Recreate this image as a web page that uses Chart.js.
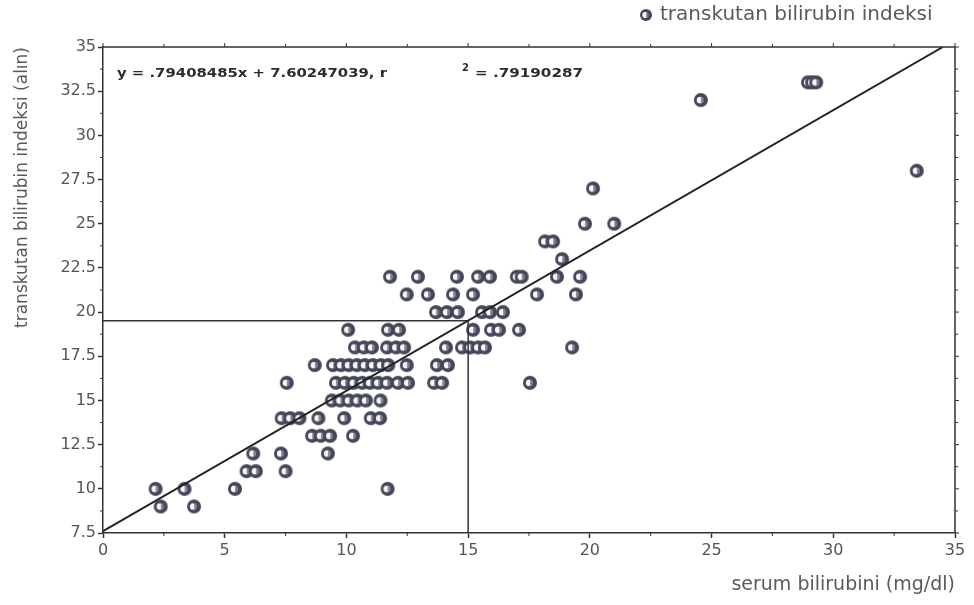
<!DOCTYPE html>
<html>
<head>
<meta charset="utf-8">
<script src="https://cdn.jsdelivr.net/npm/chart.js@4.4.1/dist/chart.umd.min.js"></script>
<style>
  html, body { margin: 0; padding: 0; background: #fff; }
</style>
</head>
<body>
<canvas id="chart" width="974" height="605"></canvas>
<script>
// Regression reported on the chart.
const slope = 0.79408485;
const intercept = 7.60247039;
const rSquared = 0.79190287;
const cutoffSerum = 15;

const indexLevels = [9, 10, 11, 12, 13, 14, 15, 16, 17, 18, 19, 20, 21, 22, 23, 24, 25, 27, 28, 32, 33];
const serumByLevel = [
  [2.37, 3.74],
  [2.16, 3.35, 5.42, 11.69],
  [5.9, 6.28, 7.5],
  [6.17, 7.31, 9.24],
  [8.59, 8.95, 9.33, 10.27],
  [7.34, 7.69, 8.07, 8.85, 9.91, 11.0, 11.38],
  [9.4, 9.75, 10.1, 10.45, 10.8, 11.4],
  [7.55, 9.57, 9.94, 10.3, 10.65, 10.97, 11.3, 11.67, 12.12, 12.53, 13.6, 13.93, 17.54],
  [8.7, 9.45, 9.78, 10.1, 10.43, 10.76, 11.09, 11.42, 11.72, 12.48, 13.72, 14.17],
  [10.35, 10.72, 11.05, 11.67, 12.04, 12.37, 14.09, 14.75, 15.08, 15.41, 15.69, 19.27],
  [10.07, 11.71, 12.16, 15.2, 15.94, 16.27, 17.09],
  [13.68, 14.13, 14.58, 15.57, 15.9, 16.43],
  [12.48, 13.35, 14.38, 15.2, 17.83, 19.43],
  [11.79, 12.94, 14.54, 15.41, 15.9, 17.0, 17.2, 18.65, 19.6],
  [18.86],
  [18.16, 18.49],
  [19.8, 21.0],
  [20.13],
  [33.43],
  [24.56],
  [28.96, 29.13, 29.3],
];

const X_MIN = 0, X_MAX = 35, Y_MIN = 7.5, Y_MAX = 35;
const FONT = 'DejaVu Sans';

// Dark ring with a light half-lit centre, like the scanned markers.
function makeDot(r) {
  const c = document.createElement('canvas');
  const s = Math.ceil(r * 2 + 2);
  c.width = c.height = s;
  const g = c.getContext('2d');
  const m = s / 2;
  g.fillStyle = '#44465a';
  g.beginPath(); g.arc(m, m, r, 0, Math.PI * 2); g.fill();
  g.fillStyle = '#f6f6f6';
  g.beginPath(); g.arc(m - 0.8, m, r * 0.48, 0, Math.PI * 2); g.fill();
  g.fillStyle = '#7c7e8c';
  g.beginPath(); g.arc(m + 0.2, m, r * 0.42, -Math.PI / 2, Math.PI / 2); g.fill();
  return c;
}
const dot = makeDot(7);
const legendDot = makeDot(6);

function fitText(ctx, text, x, y, width) {
  const w = ctx.measureText(text).width;
  ctx.save();
  ctx.translate(x, y);
  ctx.scale(width / w, 1);
  ctx.fillText(text, 0, 0);
  ctx.restore();
}

const points = indexLevels.flatMap((lvl, i) => serumByLevel[i].map((s) => ({ x: s, y: lvl })));
const fitLine = [
  { x: X_MIN, y: intercept },
  { x: (Y_MAX - intercept) / slope, y: Y_MAX },
];
const cutoffIndex = slope * cutoffSerum + intercept;
const cutoffLines = [
  { x: X_MIN, y: cutoffIndex },
  { x: cutoffSerum, y: cutoffIndex },
  { x: cutoffSerum, y: Y_MIN },
];

const framePlugin = {
  id: 'frame',
  afterDraw(chart) {
    const { ctx, chartArea: a, scales: { x, y } } = chart;
    ctx.save();
    ctx.strokeStyle = '#333';
    ctx.lineWidth = 1.5;
    ctx.beginPath();
    ctx.moveTo(a.left, a.top);
    ctx.lineTo(a.right, a.top);
    ctx.lineTo(a.right, a.bottom);
    ctx.stroke();

    // Minor ticks and the ticks on the top / right edges.
    ctx.lineWidth = 1;
    ctx.beginPath();
    for (let v = X_MIN; v <= X_MAX + 1e-6; v += 2.5) {
      const px = x.getPixelForValue(v);
      const major = v % 5 === 0;
      if (!major) { ctx.moveTo(px, a.bottom); ctx.lineTo(px, a.bottom + 3); }
      ctx.moveTo(px, a.top); ctx.lineTo(px, a.top - (major ? 4 : 3));
    }
    for (let v = Y_MIN; v <= Y_MAX + 1e-6; v += 1.25) {
      const py = y.getPixelForValue(v);
      const major = Math.abs(v / 2.5 - Math.round(v / 2.5)) < 1e-6;
      if (!major) { ctx.moveTo(a.left, py); ctx.lineTo(a.left - 3, py); }
      ctx.moveTo(a.right, py); ctx.lineTo(a.right + (major ? 4 : 3), py);
    }
    ctx.stroke();

    // Regression equation.
    ctx.fillStyle = '#2b2b2b';
    ctx.textBaseline = 'alphabetic';
    ctx.font = `bold 13px "${FONT}"`;
    fitText(ctx, `y = .${String(slope).split('.')[1]}x + ${intercept}, r`, a.left + 14, a.top + 30, 270);
    fitText(ctx, `= .${String(rSquared).split('.')[1]}`, a.left + 372, a.top + 30, 108);
    ctx.font = `bold 10px "${FONT}"`;
    ctx.fillText('2', a.left + 359, a.top + 24);

    // Legend.
    ctx.drawImage(legendDot, 646 - legendDot.width / 2, 15 - legendDot.height / 2);
    ctx.fillStyle = '#5a5a5a';
    ctx.font = `20px "${FONT}"`;
    ctx.textBaseline = 'middle';
    ctx.fillText('transkutan bilirubin indeksi', 660, 15);
    ctx.restore();
  },
};

new Chart(document.getElementById('chart'), {
  type: 'scatter',
  data: {
    datasets: [
      {
        label: 'fit',
        data: fitLine,
        showLine: true,
        borderColor: '#222',
        borderWidth: 2,
        pointRadius: 0,
        order: 0,
      },
      {
        label: 'cutoff',
        data: cutoffLines,
        showLine: true,
        borderColor: '#333',
        borderWidth: 1.5,
        pointRadius: 0,
        order: 0,
      },
      {
        label: 'transkutan bilirubin indeksi',
        data: points,
        pointStyle: dot,
        pointRadius: 7,
        order: 1,
      },
    ],
  },
  options: {
    responsive: false,
    animation: false,
    layout: { padding: { top: 47, right: 19, left: 0, bottom: 0 } },
    plugins: {
      legend: { display: false },
      tooltip: { enabled: false },
    },
    scales: {
      x: {
        type: 'linear',
        min: X_MIN,
        max: X_MAX,
        afterFit: (s) => { s.height = 72; },
        ticks: { stepSize: 5, color: '#555', font: { family: FONT, size: 16 }, padding: 3 },
        grid: { drawOnChartArea: false, drawTicks: true, tickLength: 5, tickColor: '#333', tickWidth: 1.5 },
        border: { display: true, color: '#333', width: 1.5 },
        title: {
          display: true,
          text: 'serum bilirubini (mg/dl)',
          align: 'end',
          color: '#5a5a5a',
          font: { family: FONT, size: 19 },
          padding: { top: 0, bottom: 9 },
        },
      },
      y: {
        min: Y_MIN,
        max: Y_MAX,
        afterFit: (s) => { s.width = 103; },
        ticks: { stepSize: 2.5, color: '#555', font: { family: FONT, size: 16 }, padding: 2 },
        grid: { drawOnChartArea: false, drawTicks: true, tickLength: 5, tickColor: '#333', tickWidth: 1.5 },
        border: { display: true, color: '#333', width: 1.5 },
        title: {
          display: true,
          text: 'transkutan bilirubin indeksi (alın)',
          align: 'end',
          color: '#5a5a5a',
          font: { family: FONT, size: 17 },
          padding: { top: 12, bottom: 0 },
        },
      },
    },
  },
  plugins: [framePlugin],
});
</script>
</body>
</html>
